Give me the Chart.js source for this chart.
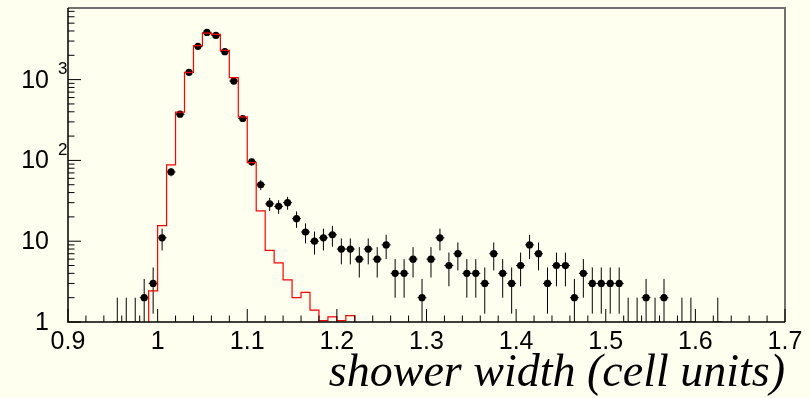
<!DOCTYPE html>
<html>
<head>
<meta charset="utf-8">
<script src="https://cdn.jsdelivr.net/npm/chart.js@4.4.0/dist/chart.umd.min.js"></script>
<style>
  html, body { margin: 0; padding: 0; background: #fffff0; }
</style>
</head>
<body>
<canvas id="chart" width="810" height="398"></canvas>
<script>
// data: bin centres and entries
const binCenters = [
  0.955, 0.965, 0.975, 0.985, 0.995, 1.005, 1.015, 1.025, 1.035, 1.045,
  1.055, 1.065, 1.075, 1.085, 1.095, 1.105, 1.115, 1.125, 1.135, 1.145,
  1.155, 1.165, 1.175, 1.185, 1.195, 1.205, 1.215, 1.225, 1.235, 1.245,
  1.255, 1.265, 1.275, 1.285, 1.295, 1.305, 1.315, 1.325, 1.335, 1.345,
  1.355, 1.365, 1.375, 1.385, 1.395, 1.405, 1.415, 1.425, 1.435, 1.445,
  1.455, 1.465, 1.475, 1.485, 1.495, 1.505, 1.515, 1.525, 1.535, 1.545,
  1.555, 1.565, 1.585, 1.595, 1.625
];
const counts = [
  1, 1, 1, 2, 3, 11, 72, 373, 1230, 2580,
  3840, 3520, 2220, 960, 330, 96, 50, 29, 27, 30,
  19, 13, 10, 11, 12, 8, 8, 6, 8, 6,
  9, 4, 4, 6, 2, 6, 11, 5, 7, 4,
  4, 3, 7, 4, 3, 5, 9, 7, 3, 5,
  5, 2, 4, 3, 3, 3, 3, 1, 1, 2,
  1, 2, 1, 1, 1
];

// red histogram: low bin edges and contents (0.5 = below the frame)
const mcEdges = [
  0.98, 0.99, 1.00, 1.01, 1.02, 1.03, 1.04, 1.05, 1.06, 1.07, 1.08, 1.09,
  1.10, 1.11, 1.12, 1.13, 1.14, 1.15, 1.16, 1.17, 1.18, 1.19, 1.20, 1.21, 1.22
];
const mcValues = [
  0.5, 2.43, 15.6, 88, 395, 1230, 2630, 3770, 3630, 2300, 1060, 346,
  94, 23.7, 7.7, 5.4, 3.33, 2.0, 2.33, 1.4, 1.04, 1.16, 1.04, 1.2, 0.5
];

const xTickLabels = ['0.9', '1', '1.1', '1.2', '1.3', '1.4', '1.5', '1.6', '1.7'];
const xMinorTicks = [
  0.92, 0.94, 0.96, 0.98, 1.02, 1.04, 1.06, 1.08, 1.12, 1.14, 1.16, 1.18,
  1.22, 1.24, 1.26, 1.28, 1.32, 1.34, 1.36, 1.38, 1.42, 1.44, 1.46, 1.48,
  1.52, 1.54, 1.56, 1.58, 1.62, 1.64, 1.66, 1.68
];
const xMajorTicks = [0.9, 1.0, 1.1, 1.2, 1.3, 1.4, 1.5, 1.6, 1.7];
const yMajorTicks = [1, 10, 100, 1000];
const yLabelBase = ['1', '10', '10', '10'];
const yLabelExp = ['', '', '2', '3'];
const yMinorTicks = [
  2, 3, 4, 5, 6, 7, 8, 9,
  20, 30, 40, 50, 60, 70, 80, 90,
  200, 300, 400, 500, 600, 700, 800, 900,
  2000, 3000, 4000, 5000, 6000, 7000
];

const HALF_BIN = 0.005;

const errorBars = {
  id: 'errorBars',
  beforeDatasetsDraw(chart) {
    const { ctx, chartArea: a, scales: { x, y } } = chart;
    ctx.save();
    ctx.beginPath();
    ctx.rect(a.left, a.top, a.right - a.left, a.bottom - a.top);
    ctx.clip();
    ctx.strokeStyle = '#000';
    ctx.lineWidth = 1;
    binCenters.forEach((c, i) => {
      const n = counts[i];
      const e = Math.sqrt(n);
      const px = x.getPixelForValue(c);
      const top = y.getPixelForValue(n + e);
      const bot = n - e > 0 ? Math.min(y.getPixelForValue(n - e), a.bottom) : a.bottom;
      ctx.beginPath();
      ctx.moveTo(px, top);
      ctx.lineTo(px, bot);
      const py = y.getPixelForValue(n);
      ctx.moveTo(x.getPixelForValue(c - HALF_BIN), py);
      ctx.lineTo(x.getPixelForValue(c + HALF_BIN), py);
      ctx.stroke();
    });
    ctx.restore();
  }
};

const frame = {
  id: 'frame',
  afterDraw(chart) {
    const { ctx, chartArea: a, scales: { x, y } } = chart;
    ctx.save();
    // gray top/right frame
    ctx.strokeStyle = '#707070';
    ctx.lineWidth = 2;
    ctx.beginPath();
    ctx.moveTo(a.left, a.top);
    ctx.lineTo(a.right, a.top);
    ctx.lineTo(a.right, a.bottom);
    ctx.stroke();
    // axes
    ctx.strokeStyle = '#000';
    ctx.lineWidth = 1.5;
    ctx.beginPath();
    ctx.moveTo(a.left, a.top);
    ctx.lineTo(a.left, a.bottom);
    ctx.lineTo(a.right, a.bottom);
    ctx.stroke();
    ctx.lineWidth = 1;
    ctx.beginPath();
    for (const v of xMajorTicks) {
      const px = x.getPixelForValue(v);
      ctx.moveTo(px, a.bottom);
      ctx.lineTo(px, a.bottom - 13);
    }
    for (const v of xMinorTicks) {
      const px = x.getPixelForValue(v);
      ctx.moveTo(px, a.bottom);
      ctx.lineTo(px, a.bottom - 6.5);
    }
    for (const v of yMajorTicks) {
      const py = y.getPixelForValue(v);
      ctx.moveTo(a.left, py);
      ctx.lineTo(a.left + 13, py);
    }
    for (const v of yMinorTicks) {
      const py = y.getPixelForValue(v);
      ctx.moveTo(a.left, py);
      ctx.lineTo(a.left + 6.5, py);
    }
    ctx.stroke();
    // y labels with exponents
    ctx.fillStyle = '#000';
    ctx.textBaseline = 'middle';
    yMajorTicks.forEach((v, i) => {
      const py = y.getPixelForValue(v);
      ctx.font = '25px "Liberation Sans", Arial, sans-serif';
      ctx.textAlign = 'right';
      ctx.fillText(yLabelBase[i], 49, py + 1);
      if (yLabelExp[i]) {
        ctx.font = '17px "Liberation Sans", Arial, sans-serif';
        ctx.textAlign = 'left';
        ctx.fillText(yLabelExp[i], 58, py - 10);
      }
    });
    ctx.restore();
  }
};

new Chart(document.getElementById('chart'), {
  data: {
    datasets: [
      {
        type: 'line',
        label: 'simulation',
        data: mcEdges.map((e, i) => ({ x: e, y: mcValues[i] })),
        stepped: 'before',
        borderColor: '#ff0000',
        borderWidth: 1.2,
        pointRadius: 0,
        fill: false,
        order: 0,
      },
      {
        type: 'scatter',
        label: 'data',
        data: binCenters.map((c, i) => ({ x: c, y: counts[i] })),
        backgroundColor: '#000',
        borderWidth: 0,
        pointRadius: counts.map((n) => (n > 1 ? 3.6 : 0)),
        order: 1,
      },
    ],
  },
  options: {
    responsive: false,
    animation: false,
    events: [],
    layout: { padding: { left: 68, right: 25, top: 8, bottom: 0 } },
    plugins: { legend: { display: false }, tooltip: { enabled: false } },
    scales: {
      x: {
        type: 'linear',
        min: 0.9,
        max: 1.7,
        grid: { display: false, drawTicks: false },
        border: { display: false },
        ticks: {
          stepSize: 0.1,
          padding: 5,
          color: '#000',
          font: { family: '"Liberation Sans", Arial, sans-serif', size: 25 },
          callback: (v, i) => xTickLabels[i],
          maxRotation: 0,
          autoSkip: false,
        },
        title: {
          display: true,
          text: 'shower width (cell units)',
          align: 'end',
          color: '#000',
          font: { family: '"Liberation Serif", "Times New Roman", serif', size: 46, style: 'italic' },
          padding: { top: 0, bottom: -4 },
        },
        afterFit: (s) => { s.height = 76; },
      },
      y: {
        type: 'logarithmic',
        display: false,
        min: 1,
        max: 7700,
      },
    },
  },
  plugins: [errorBars, frame],
});
</script>
</body>
</html>
